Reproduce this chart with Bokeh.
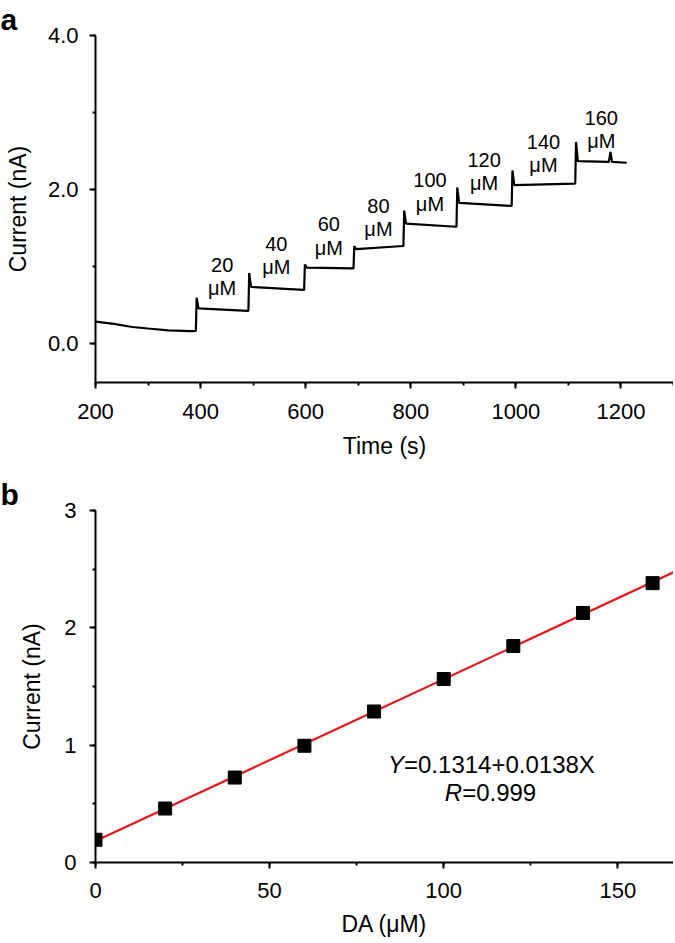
import numpy as np
from bokeh.plotting import figure
from bokeh.layouts import column
from bokeh.models import Range1d, SingleIntervalTicker, PrintfTickFormatter
from bokeh.core.properties import value
from bokeh.embed import file_html
from bokeh.resources import INLINE

FONT = "Liberation Sans"

# ---------------- panel a data: amperometric trace ----------------
base_t = [200, 235, 270, 300, 338, 382, 389]
base_i = [0.29, 0.26, 0.22, 0.20, 0.175, 0.166, 0.168]
step_t = [391, 491, 597, 691, 786, 887, 992, 1113]
spike_i = [0.60, 0.92, 1.03, 1.27, 1.73, 2.03, 2.25, 2.62]
plat_start = [0.46, 0.74, 0.99, 1.23, 1.56, 1.83, 2.06, 2.37]
plat_end = [0.43, 0.70, 0.98, 1.27, 1.52, 1.79, 2.08, 2.35]
end_t = 1212
blip_t = [1177, 1180, 1183]
blip_i = [2.36, 2.49, 2.36]
conc_labels = ["20", "40", "60", "80", "100", "120", "140", "160"]

# ---------------- panel b data: calibration ----------------
da = [0, 20, 40, 60, 80, 100, 120, 140, 160]
cur = [0.194, 0.46, 0.724, 0.995, 1.287, 1.564, 1.845, 2.127, 2.381]
eq_text = "=0.1314+0.0138X"
r_text = "=0.999"

# build trace
t = list(base_t)
c = list(base_i)
for k in range(len(step_t)):
    t0 = step_t[k]
    t1 = step_t[k + 1] if k + 1 < len(step_t) else end_t
    t += [t0, t0 + 1.5, t0 + 5, t1 - 1]
    c += [c[-1], spike_i[k], plat_start[k], plat_end[k]]
t += blip_t
c += blip_i
order = np.argsort(t, kind="stable")
t = list(np.array(t)[order])
c = list(np.array(c)[order])

lab_x = []
for k in range(len(step_t)):
    t1 = step_t[k + 1] if k + 1 < len(step_t) else end_t
    lab_x.append((step_t[k] + t1) / 2)
num_y = [v + 0.56 for v in plat_start]
unit_y = [v + 0.26 for v in plat_start]


def style(p, xint, yint, letter):
    p.outline_line_color = None
    p.xgrid.visible = False
    p.ygrid.visible = False
    p.background_fill_color = "white"
    p.border_fill_color = "white"
    p.xaxis.ticker = SingleIntervalTicker(interval=xint, num_minor_ticks=2)
    p.yaxis.ticker = SingleIntervalTicker(interval=yint, num_minor_ticks=2)
    for ax in (p.xaxis[0], p.yaxis[0]):
        ax.axis_line_width = 2
        ax.axis_line_color = "black"
        ax.major_tick_line_width = 2
        ax.minor_tick_line_width = 2
        ax.major_tick_line_color = "black"
        ax.minor_tick_line_color = "black"
        ax.major_tick_in = 0
        ax.major_tick_out = 6
        ax.minor_tick_in = 0
        ax.minor_tick_out = 3
        ax.major_label_text_font = FONT
        ax.major_label_text_font_size = "22px"
        ax.major_label_text_color = "black"
        ax.axis_label_text_font = FONT
        ax.axis_label_text_font_size = "23px"
        ax.axis_label_text_font_style = "normal"
        ax.axis_label_text_color = "black"
    p.title.text = letter
    p.title.text_font = FONT
    p.title.text_font_size = "30px"
    p.title.text_font_style = "bold"
    p.title.text_color = "black"
    p.title.align = "left"
    p.title.offset = -95
    p.title.standoff = 0


p1 = figure(width=673, height=470, x_range=Range1d(200, 1300), y_range=Range1d(-0.5, 4.0),
            output_backend="svg", toolbar_location=None,
            min_border_left=95, min_border_right=0, min_border_top=28, min_border_bottom=88)
style(p1, 200, 2, "a")
p1.title.text_line_height = 0.7
p1.yaxis.formatter = PrintfTickFormatter(format="%.1f")
p1.xaxis.axis_label = "Time (s)"
p1.yaxis.axis_label = "Current (nA)"
p1.xaxis.major_label_standoff = 15
p1.xaxis.axis_label_standoff = 11
p1.yaxis.major_label_standoff = 11
p1.yaxis.axis_label_standoff = 14
p1.line(t, c, line_color="black", line_width=2.2)
p1.text(x=lab_x, y=num_y, text=conc_labels, text_font=value(FONT), text_font_size="20px",
        text_align="center", text_baseline="middle", text_color="black")
p1.text(x=lab_x, y=unit_y, text=["\u03bcM"] * len(lab_x), text_font=value(FONT), text_font_size="20px",
        text_align="center", text_baseline="middle", text_color="black")

p2 = figure(width=673, height=472, x_range=Range1d(0, 166), y_range=Range1d(0, 3),
            output_backend="svg", toolbar_location=None,
            min_border_left=95, min_border_right=0, min_border_top=40, min_border_bottom=80)
style(p2, 50, 1, "b")
p2.xaxis.axis_label = "DA (\u03bcM)"
p2.yaxis.axis_label = "Current (nA)"
p2.xaxis.major_label_standoff = 14
p2.xaxis.axis_label_standoff = 10
p2.yaxis.major_label_standoff = 13
p2.yaxis.axis_label_standoff = 16
slope, icpt = np.polyfit(da, cur, 1)
fx = [0, 166]
p2.line(fx, [icpt + slope * v for v in fx], line_color="#e8141c", line_width=2.2)
p2.scatter(da, cur, marker="square", size=13, fill_color="black", line_color="black")
p2.text(x=[88.6], y=[0.837], text=["Y"], text_font=value(FONT), text_font_style="italic",
        text_font_size="24px", text_align="right", text_baseline="middle", text_color="black")
p2.text(x=[88.6], y=[0.837], text=[eq_text], text_font=value(FONT),
        text_font_size="24px", text_align="left", text_baseline="middle", text_color="black")
p2.text(x=[105.3], y=[0.60], text=["R"], text_font=value(FONT), text_font_style="italic",
        text_font_size="24px", text_align="right", text_baseline="middle", text_color="black")
p2.text(x=[105.3], y=[0.60], text=[r_text], text_font=value(FONT),
        text_font_size="24px", text_align="left", text_baseline="middle", text_color="black")

layout = column(p1, p2, spacing=0)
open("out.html", "w").write(file_html(layout, INLINE))
